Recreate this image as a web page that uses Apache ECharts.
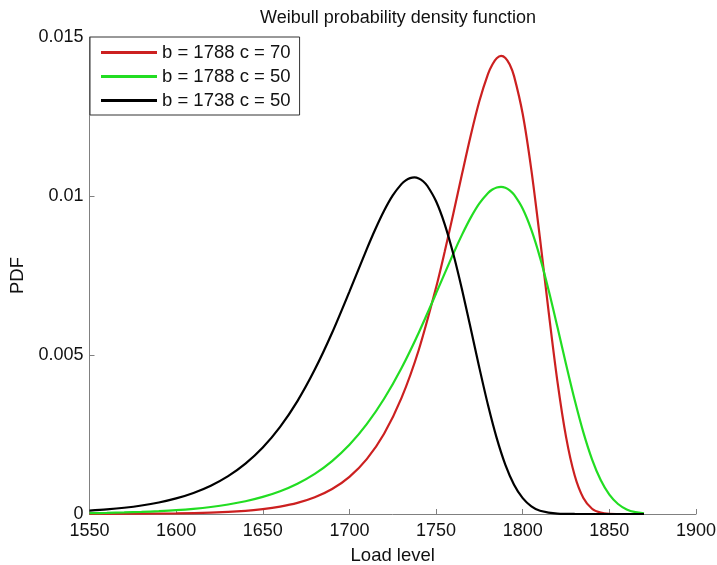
<!DOCTYPE html>
<html>
<head>
<meta charset="utf-8">
<script src="https://cdn.jsdelivr.net/npm/echarts@6/dist/echarts.min.js"></script>
<style>
html,body{margin:0;padding:0;background:#fff;}
#chart{width:717px;height:565px;}
</style>
</head>
<body>
<div id="chart"></div>
<script>
var seriesNames = ['b = 1788 c = 70', 'b = 1788 c = 50', 'b = 1738 c = 50'];
var xTicks = [1550, 1600, 1650, 1700, 1750, 1800, 1850, 1900];
var yTicks = [0, 0.005, 0.01, 0.015];

var redX = [1550,1600,1620,1640,1650,1660,1670,1680,1690,1700,1710,1720,1730,1740,1750,1755,1760,1765,1770,1775,1780,1782.5,1785,1787.5,1790,1792.5,1795,1800,1805,1810,1815,1820,1825,1830,1835,1840,1845,1850,1860,1870];
var redY = [0.000002,0.000018,0.000043,0.000100,0.000153,0.000232,0.000349,0.000525,0.000785,0.001169,0.001727,0.002525,0.003643,0.005158,0.007121,0.008253,0.009460,0.010698,0.011903,0.012986,0.013839,0.014137,0.014331,0.014404,0.014342,0.014133,0.013769,0.012577,0.010814,0.008649,0.006337,0.004178,0.002425,0.001209,0.000501,0.000166,0.000042,0.000008,0,0];

var greenX = [1550,1560,1570,1580,1590,1600,1610,1620,1630,1640,1650,1660,1670,1680,1690,1700,1710,1720,1730,1740,1750,1760,1765,1770,1775,1780,1782.5,1785,1787.5,1790,1792.5,1795,1800,1805,1810,1815,1820,1825,1830,1835,1840,1845,1850,1855,1860,1865,1870];
var greenY = [0.0000255,0.000035,0.000048,0.000065,0.000089,0.000120,0.000163,0.000221,0.000298,0.000400,0.000537,0.000717,0.000954,0.001263,0.001664,0.002176,0.002824,0.003623,0.004584,0.005702,0.006936,0.008194,0.008786,0.009320,0.009768,0.010095,0.010203,0.010269,0.010289,0.010260,0.010178,0.010040,0.009598,0.008932,0.008061,0.007026,0.005885,0.004710,0.003582,0.002566,0.001720,0.001069,0.000608,0.000314,0.000145,0.000059,0.000021];

var blackX = [1550,1560,1570,1580,1590,1600,1610,1620,1630,1640,1650,1660,1670,1680,1690,1700,1710,1715,1720,1725,1730,1732.5,1735,1737.5,1740,1742.5,1745,1750,1755,1760,1765,1770,1775,1780,1785,1790,1795,1800,1805,1810,1820,1830,1850,1870];
var blackY = [0.000105,0.000144,0.000196,0.000267,0.000363,0.000492,0.000663,0.000891,0.001192,0.001585,0.002093,0.002741,0.003551,0.004541,0.005699,0.006993,0.008328,0.008961,0.009535,0.010018,0.010373,0.010491,0.010563,0.010585,0.010554,0.010464,0.010315,0.009834,0.009110,0.008166,0.007051,0.005832,0.004593,0.003419,0.002387,0.001548,0.000923,0.000500,0.000243,0.000104,0.000012,0.000001,0,0];

function pairs(xs, ys) { return xs.map(function (x, i) { return [x, ys[i]]; }); }

var FONT = "'Liberation Sans', Arial, sans-serif";
var chart = echarts.init(document.getElementById('chart'), null, {renderer: 'canvas'});

function mkSeries(name, xs, ys, color) {
  return {
    name: name, type: 'line', data: pairs(xs, ys),
    showSymbol: false, smooth: 0.3, clip: false,
    lineStyle: {color: color, width: 2.2}, itemStyle: {color: color},
    emphasis: {disabled: true}
  };
}

chart.setOption({
  animation: false,
  backgroundColor: '#ffffff',
  textStyle: {fontFamily: FONT},
  title: {
    text: 'Weibull probability density function',
    left: 393, top: 4, textAlign: 'center',
    textStyle: {fontFamily: FONT, fontSize: 18, fontWeight: 'normal', color: '#111'}
  },
  legend: {
    orient: 'vertical', left: 90, top: 37,
    padding: [6, 9, 5, 11],
    itemGap: 5, itemWidth: 56, itemHeight: 3,
    icon: 'rect',
    backgroundColor: '#ffffff', borderColor: '#333', borderWidth: 1, borderRadius: 0,
    textStyle: {fontFamily: FONT, fontSize: 18.5, color: '#111'},
    data: seriesNames
  },
  grid: {left: 89.5, right: 21, top: 37, bottom: 51, containLabel: false, outerBoundsMode: 'none'},
  xAxis: {
    type: 'value', min: xTicks[0], max: xTicks[xTicks.length - 1], interval: 50,
    name: 'Load level', nameLocation: 'middle', nameGap: 32,
    nameTextStyle: {fontFamily: FONT, fontSize: 18.5, color: '#111'},
    axisLine: {show: true, lineStyle: {color: '#808080', width: 1}},
    axisTick: {show: true, inside: true, length: 5, lineStyle: {color: '#808080'}},
    axisLabel: {fontFamily: FONT, fontSize: 18, color: '#111', margin: 8,
      formatter: function (v) { return String(v); }},
    splitLine: {show: false}
  },
  yAxis: {
    type: 'value', min: yTicks[0], max: yTicks[yTicks.length - 1], interval: 0.005,
    name: 'PDF', nameLocation: 'middle', nameGap: 60,
    nameTextStyle: {fontFamily: FONT, fontSize: 18.5, color: '#111'},
    axisLine: {show: true, lineStyle: {color: '#808080', width: 1}},
    axisTick: {show: true, inside: true, length: 5, lineStyle: {color: '#808080'}},
    axisLabel: {fontFamily: FONT, fontSize: 18, color: '#111', margin: 6,
      formatter: function (v) { return String(v); }},
    splitLine: {show: false}
  },
  series: [
    mkSeries(seriesNames[0], redX, redY, '#cc2020'),
    mkSeries(seriesNames[1], greenX, greenY, '#22dd22'),
    mkSeries(seriesNames[2], blackX, blackY, '#000000')
  ]
});
</script>
</body>
</html>
